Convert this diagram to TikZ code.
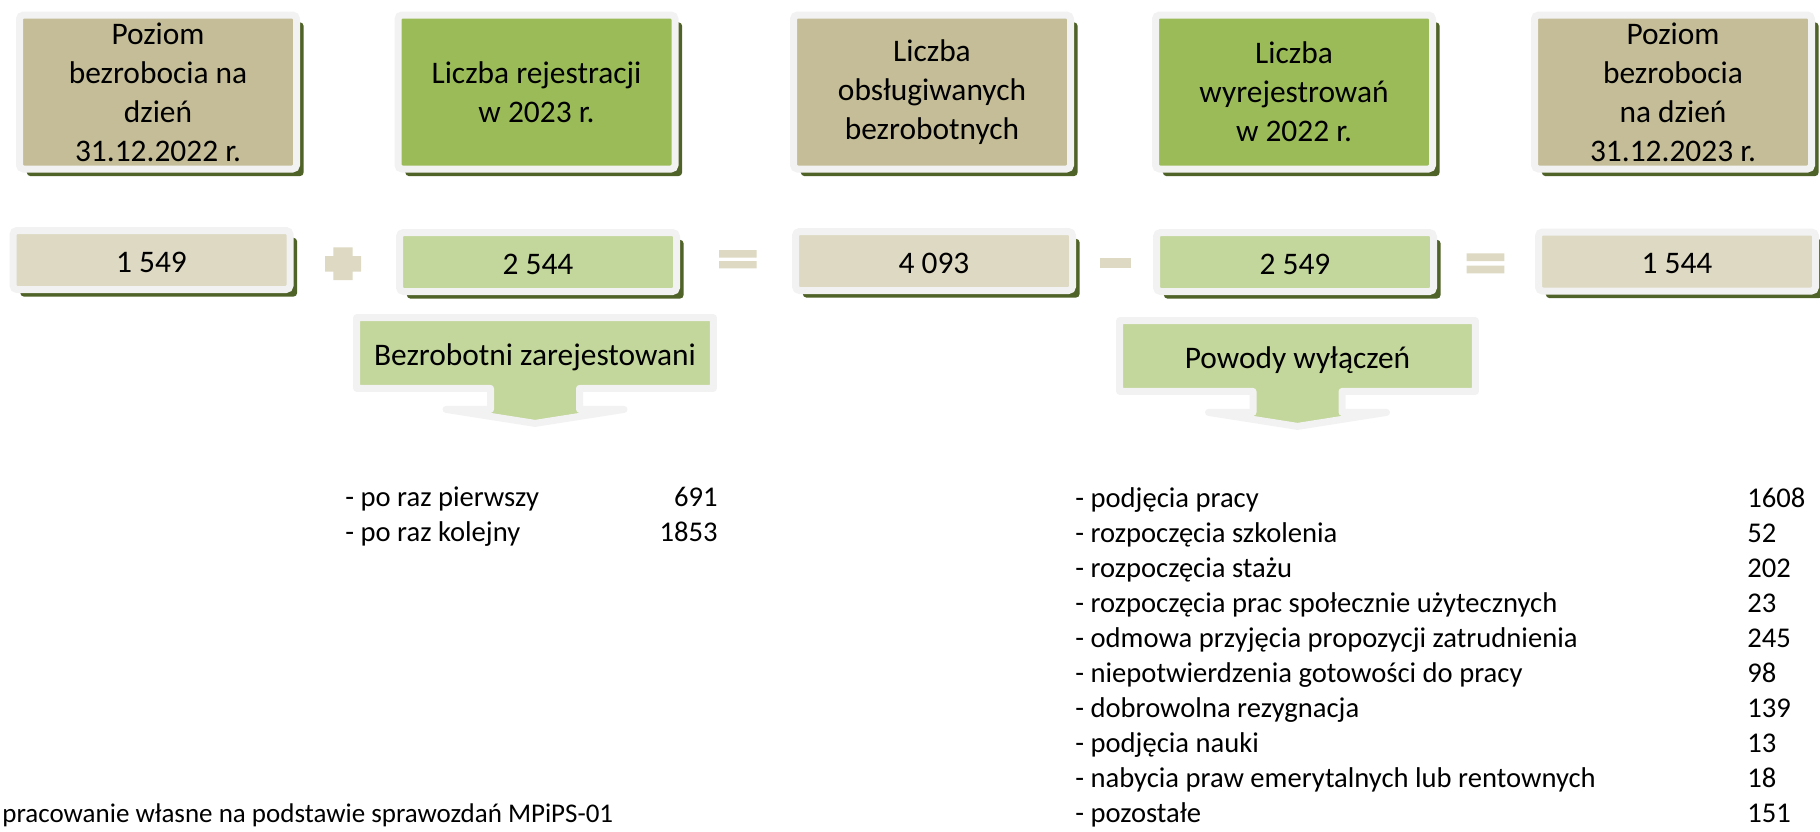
\documentclass[tikz,border=0pt]{standalone}
\usepackage{fontspec}
\setmainfont{Carlito}
\usetikzlibrary{positioning,calc,shadows,backgrounds}
\definecolor{tandark}{HTML}{C4BD97}
\definecolor{tanlight}{HTML}{DDD9C3}
\definecolor{greendark}{HTML}{9BBB59}
\definecolor{greenlight}{HTML}{C3D69B}
\definecolor{framegray}{HTML}{F2F2F2}
\definecolor{shadowgreen}{HTML}{4F6228}
\tikzset{
  framed/.style={draw=framegray, line width=3.5pt, rounded corners=2pt, inner sep=0pt, align=center,
    drop shadow={shadow xshift=3.6pt, shadow yshift=-3.6pt, fill=shadowgreen, opacity=1}},
  headbox/.style={framed, minimum width=138.5pt, minimum height=77pt, font=\fontsize{15.7}{19.5}\selectfont},
  valbox/.style={framed, minimum width=138.5pt, minimum height=29.5pt, text height=12pt, text depth=0pt,
    font=\fontsize{15.7}{19}\selectfont},
  calloutbox/.style={minimum width=178pt, minimum height=35pt, inner sep=0pt, text height=12.5pt,
    text depth=0pt, font=\fontsize{15.7}{19}\selectfont},
  callout/.style={draw=framegray, fill=greenlight, line width=3.5pt, line join=round},
  op/.style={fill=tanlight},
  item/.style={anchor=base west, inner sep=0pt, font=\fontsize{14.3}{17}\selectfont},
  num/.style={anchor=base east, inner sep=0pt, font=\fontsize{14.3}{17}\selectfont}
}
\begin{document}
\begin{tikzpicture}[x=0.5pt, y=-0.5pt]
\useasboundingbox (0,0) rectangle (1820,831);
% top row
\node[headbox, fill=tandark] (poz22) at (158,92) {Poziom\\bezrobocia na\\dzień\\31.12.2022 r.};
\node[headbox, fill=greendark] (rej) at (536.5,92) {Liczba rejestracji\\w 2023 r.};
\node[headbox, fill=tandark] (obs) at (932,92) {Liczba\\obsługiwanych\\bezrobotnych};
\node[headbox, fill=greendark] (wyr) at (1294,92) {Liczba\\wyrejestrowań\\w 2022 r.};
\node[headbox, fill=tandark] (poz23) at (1673,92) {Poziom\\bezrobocia\\na dzień\\31.12.2023 r.};
% values
\node[valbox, fill=tanlight] (vpoz22) at (151.5,260) {1 549};
\node[valbox, fill=greenlight] (vrej) at (538,262) {2 544};
\node[valbox, fill=tanlight] (vobs) at (934,261) {4 093};
\node[valbox, fill=greenlight] (vwyr) at (1295,262) {2 549};
\node[valbox, fill=tanlight] (vpoz23) at (1677,261.5) {1 544};
% operators
\fill[op] (333.3,247.3) rectangle (352.7,280) (325,256) rectangle (361,271.7);
\fill[op] (719,250) rectangle (756.7,257.7) (719,261) rectangle (756.7,268.3);
\fill[op] (1100,258) rectangle (1131,268);
\fill[op] (1466.7,253.3) rectangle (1504.3,261) (1466.7,265.7) rectangle (1504.3,273.3);
% callouts
\node[calloutbox] (zar) at (535,353) {Bezrobotni zarejestowani};
\node[calloutbox, minimum width=177.5pt] (pow) at (1297.5,356) {Powody wyłączeń};
\begin{scope}[on background layer]
\foreach \c in {zar,pow}
  \draw[callout] (\c.north west) -- (\c.north east) -- (\c.south east)
    -- ($(\c.south)+(44.5,0)$) -- ++(0,21) -- ($(\c.south)+(89,21)$)
    -- ($(\c.south)+(0,35)$) -- ($(\c.south)+(-89,21)$)
    -- ($(\c.south)+(-44.5,21)$) -- ($(\c.south)+(-44.5,0)$) -- (\c.south west) -- cycle;
\end{scope}
% registered
\node[item] (pierw) at (345,506) {- po raz pierwszy};
\node[num] (npierw) at (718,506) {691};
\node[item] (kolej) at (345,541) {- po raz kolejny};
\node[num] (nkolej) at (718,541) {1853};
% reasons
\foreach \txt/\val [count=\i from 0] in {podjęcia pracy/1608, rozpoczęcia szkolenia/52,
    rozpoczęcia stażu/202, rozpoczęcia prac społecznie użytecznych/23,
    odmowa przyjęcia propozycji zatrudnienia/245, niepotwierdzenia gotowości do pracy/98,
    dobrowolna rezygnacja/139, podjęcia nauki/13,
    nabycia praw emerytalnych lub rentownych/18, pozostałe/151}
{
  \node[item] (powod\i) at (1075,507+35.1*\i) {- \txt};
  \node[item] (npowod\i) at (1747,507+35.1*\i) {\val};
}
\node[item, font=\fontsize{13.5}{16}\selectfont] (zrodlo) at (2,822)
  {pracowanie własne na podstawie sprawozdań MPiPS-01};
\end{tikzpicture}
\end{document}
